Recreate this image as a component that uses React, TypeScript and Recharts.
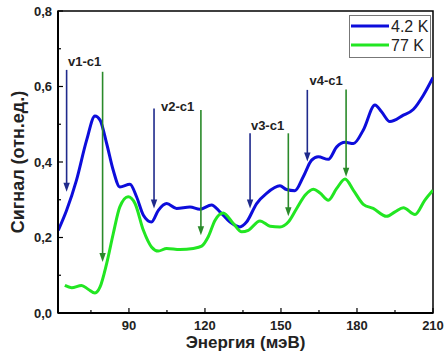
import {
  LineChart, Line, XAxis, YAxis, Legend, Label,
  ReferenceLine, ReferenceDot, ReferenceArea,
} from 'recharts'

const FONT = '"Liberation Sans", Arial, sans-serif'

// 4.2 K spectrum
const energy42 = [62.1, 65.4, 69.3, 73.3, 76.6, 78.6, 81.2, 83.8, 86.4, 90.4, 93, 95.7, 98.9, 101.6, 104.9, 108.8, 114.1, 118, 122.6, 125.9, 129.9, 133.8, 136.4, 140.4, 144.3, 149.6, 152.2, 155.5, 158.8, 162.1, 164.7, 168.7, 172, 175.3, 178.6, 182.5, 187.1, 189.7, 193, 198.3, 202.2, 206.2, 210]
const signal42 = [0.219, 0.272, 0.352, 0.458, 0.522, 0.511, 0.449, 0.378, 0.334, 0.341, 0.308, 0.259, 0.241, 0.272, 0.29, 0.277, 0.281, 0.275, 0.286, 0.268, 0.241, 0.228, 0.241, 0.29, 0.317, 0.337, 0.327, 0.324, 0.361, 0.405, 0.414, 0.407, 0.44, 0.452, 0.449, 0.485, 0.551, 0.533, 0.507, 0.524, 0.539, 0.577, 0.624]

// 77 K spectrum
const energy77 = [64.7, 67.4, 71.3, 73.9, 76.6, 78.6, 81.2, 83.8, 86.4, 89.7, 92.4, 95.7, 98.9, 101.6, 104.9, 110.1, 115.4, 118.7, 121.3, 124, 127.2, 131.2, 134.5, 137.1, 141.7, 145.7, 149.6, 152.9, 156.2, 159.5, 162.8, 165.4, 168.7, 172, 175.3, 178.6, 182.5, 186.4, 191.7, 195, 198.3, 202.9, 206.8, 210]
const signal77 = [0.073, 0.067, 0.073, 0.063, 0.053, 0.069, 0.131, 0.21, 0.281, 0.308, 0.29, 0.219, 0.175, 0.164, 0.171, 0.168, 0.171, 0.177, 0.202, 0.246, 0.265, 0.237, 0.215, 0.219, 0.244, 0.23, 0.228, 0.241, 0.277, 0.312, 0.328, 0.318, 0.299, 0.33, 0.355, 0.325, 0.288, 0.277, 0.256, 0.268, 0.279, 0.261, 0.299, 0.325]

// transition arrows
const blueArrowX = [65.4, 99.9, 137.8, 160.4]
const blueArrowTop = [0.644, 0.542, 0.476, 0.591]
const blueArrowTip = [0.321, 0.277, 0.277, 0.401]
const greenArrowX = [79.6, 118.4, 152.9, 175.7]
const greenArrowTop = [0.639, 0.538, 0.476, 0.592]
const greenArrowTip = [0.135, 0.206, 0.256, 0.361]
const transitionNames = ['v1-c1', 'v2-c1', 'v3-c1', 'v4-c1']
const transitionX = [72.5, 109.2, 144.7, 167.8]
const transitionY = [0.666, 0.546, 0.498, 0.615]

const xTicks = [75, 90, 105, 120, 135, 150, 165, 180, 195, 210]
const yTicks = [0, 0.1, 0.2, 0.3, 0.4, 0.5, 0.6, 0.7, 0.8]

const data42 = energy42.map((e, i) => ({ e, s: signal42[i] }))
const data77 = energy77.map((e, i) => ({ e, s: signal77[i] }))

const Arrow = (color: string) => (p: any) => {
  const { x1, y1, x2, y2 } = p
  const head = 9
  return (
    <g>
      <line x1={x1} y1={y1} x2={x2} y2={y2 - head + 1} stroke={color} strokeWidth={1.6} />
      <polygon points={`${x2 - 3.2},${y2 - head} ${x2 + 3.2},${y2 - head} ${x2},${y2}`} fill={color} />
    </g>
  )
}

const XTick = ({ x, y, payload }: any) => {
  const major = payload.value % 30 === 0
  return (
    <g>
      <line x1={x} x2={x} y1={y} y2={y - (major ? 5 : 3)} stroke="#000" strokeWidth={1.2} />
      {major && (
        <text x={x} y={y + 17} textAnchor="middle" fontSize={13} fontWeight="bold" fill="#222" fontFamily={FONT}>
          {payload.value}
        </text>
      )}
    </g>
  )
}

const YTick = ({ x, y, payload }: any) => {
  const major = Math.round(payload.value * 10) % 2 === 0
  return (
    <g>
      <line x1={x} x2={x + (major ? 5 : 3)} y1={y} y2={y} stroke="#000" strokeWidth={1.2} />
      {major && (
        <text x={x - 6} y={y} dy="0.35em" textAnchor="end" fontSize={13} fontWeight="bold" fill="#222" fontFamily={FONT}>
          {payload.value.toFixed(1).replace('.', ',')}
        </text>
      )}
    </g>
  )
}

const LegendBox = () => (
  <svg width={82} height={43}>
    <rect x={0.5} y={0.5} width={81} height={42} fill="#fff" stroke="#777" />
    <line x1={2} x2={40} y1={11} y2={11} stroke="#0d0ddb" strokeWidth={3} />
    <line x1={2} x2={40} y1={30} y2={30} stroke="#22e622" strokeWidth={3} />
    <text x={42} y={17} fontSize={16} fill="#222" fontFamily={FONT}>4.2 K</text>
    <text x={42} y={36} fontSize={16} fill="#222" fontFamily={FONT}>77 K</text>
  </svg>
)

export default function App() {
  return (
    <div style={{ position: 'absolute', left: 0, top: 0, background: '#fff' }}>
      <LineChart width={445} height={354} margin={{ top: 11, right: 12, left: 0, bottom: 0 }}>
        <XAxis
          type="number"
          dataKey="e"
          domain={[62, 210]}
          ticks={xTicks}
          allowDataOverflow
          height={41}
          tickSize={0}
          tickMargin={0}
          tick={<XTick />}
          axisLine={{ stroke: '#000', strokeWidth: 2 }}
        >
          <Label
            value="Энергия (мэВ)"
            position="insideBottom"
            offset={6}
            style={{ fontSize: 17, fontWeight: 'bold', fill: '#222', fontFamily: FONT }}
          />
        </XAxis>
        <YAxis
          type="number"
          dataKey="s"
          domain={[0, 0.8]}
          ticks={yTicks}
          allowDataOverflow
          width={58}
          tickSize={0}
          tickMargin={0}
          tick={<YTick />}
          axisLine={{ stroke: '#000', strokeWidth: 2 }}
        >
          <Label
            value="Сигнал (отн.ед.)"
            angle={-90}
            position="insideLeft"
            offset={18}
            style={{ fontSize: 18, fontWeight: 'bold', fill: '#222', fontFamily: FONT, textAnchor: 'middle' }}
          />
        </YAxis>
        <ReferenceArea x1={62} x2={210} y1={0} y2={0.8} fill="none" stroke="#000" strokeWidth={1.5} />
        <Line data={data42} dataKey="s" type="monotone" stroke="#0d0ddb" strokeWidth={3} dot={false} isAnimationActive={false} />
        <Line data={data77} dataKey="s" type="monotone" stroke="#22e622" strokeWidth={3} dot={false} isAnimationActive={false} />
        {blueArrowX.map((x, i) => (
          <ReferenceLine key={'b' + i} segment={[{ x, y: blueArrowTop[i] }, { x, y: blueArrowTip[i] }]} shape={Arrow('#1f2a8c')} />
        ))}
        {greenArrowX.map((x, i) => (
          <ReferenceLine key={'g' + i} segment={[{ x, y: greenArrowTop[i] }, { x, y: greenArrowTip[i] }]} shape={Arrow('#2a8a2a')} />
        ))}
        {transitionNames.map((name, i) => (
          <ReferenceDot
            key={name}
            x={transitionX[i]}
            y={transitionY[i]}
            shape={(p: any) => (
              <text x={p.cx} y={p.cy} dy="0.35em" textAnchor="middle" fontSize={13} fontWeight="bold" fill="#222" fontFamily={FONT}>
                {name}
              </text>
            )}
          />
        ))}
        <Legend
          layout="vertical"
          align="center"
          verticalAlign="middle"
          content={<LegendBox />}
          wrapperStyle={{ position: 'absolute', left: 349, top: 15, width: 82, height: 43 }}
        />
      </LineChart>
    </div>
  )
}
